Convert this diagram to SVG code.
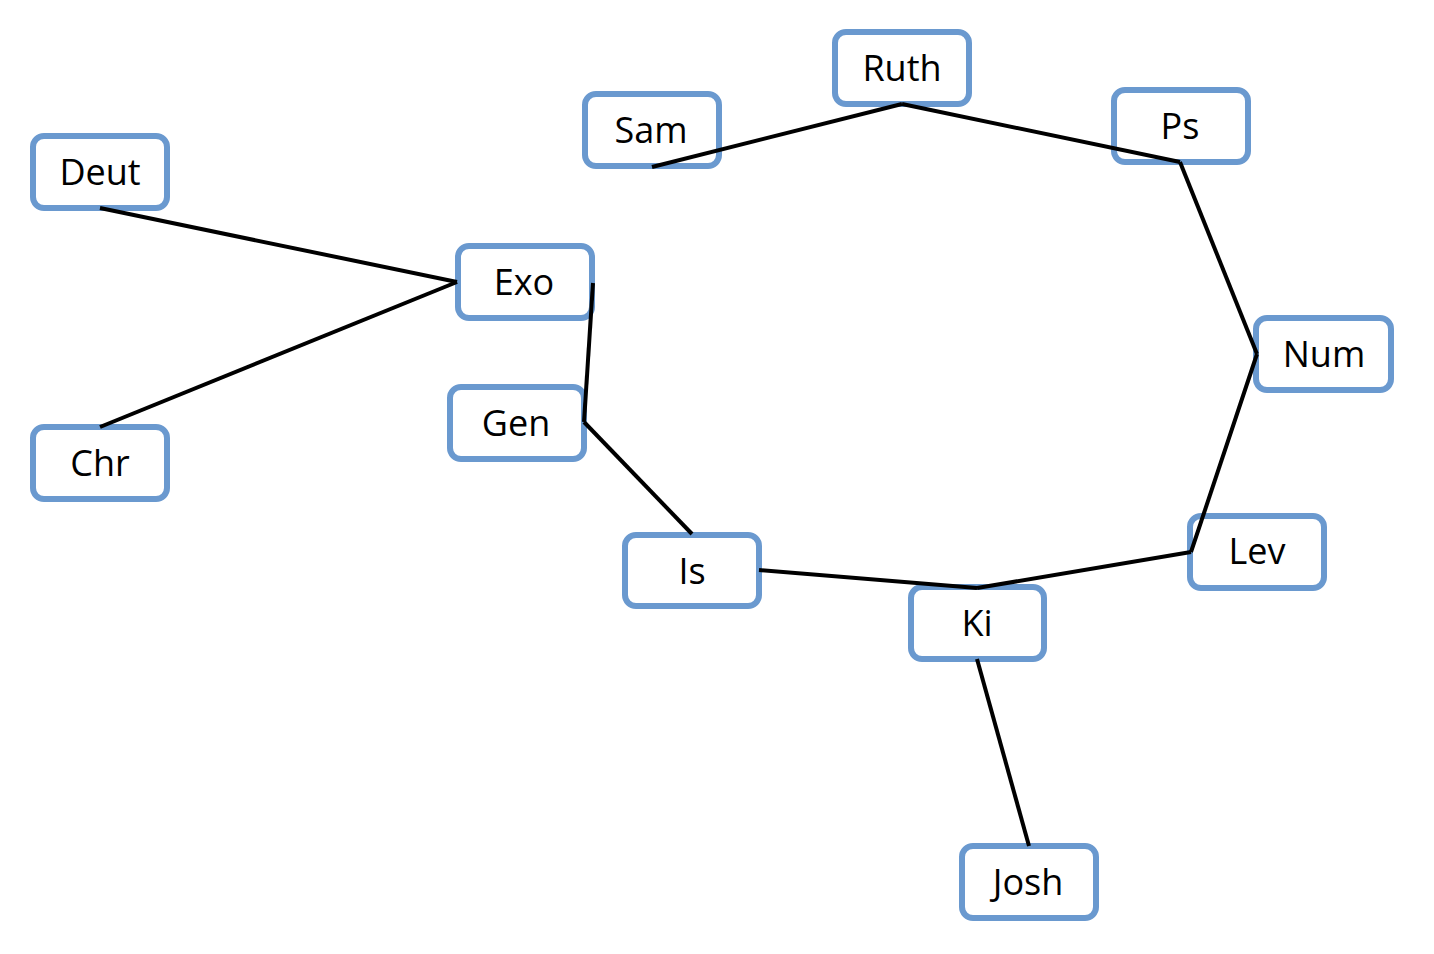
<svg xmlns="http://www.w3.org/2000/svg" width="1434" height="954" viewBox="0 0 1434 954">
<style>
.node rect{fill:#fff;stroke:#6A99CF;stroke-width:6}
.node text{font-family:"Open Sans","Noto Sans","Liberation Sans",sans-serif;font-size:36px;fill:#000;text-anchor:middle}
.edges line{stroke:#000;stroke-width:4;stroke-linecap:butt}
</style>
<rect width="1434" height="954" fill="#fff"/>
<g id="nodes">
<g id="ruth" class="node"><rect x="835" y="32" width="134" height="72" rx="11"/><text x="902" y="81">Ruth</text></g>
<g id="sam" class="node"><rect x="585" y="94" width="134" height="72" rx="11"/><text x="651" y="143">Sam</text></g>
<g id="ps" class="node"><rect x="1114" y="90" width="134" height="72" rx="11"/><text x="1180" y="139">Ps</text></g>
<g id="deut" class="node"><rect x="33" y="136" width="134" height="72" rx="11"/><text x="100" y="185">Deut</text></g>
<g id="exo" class="node"><rect x="458" y="246" width="134" height="72" rx="11"/><text x="524" y="295">Exo</text></g>
<g id="gen" class="node"><rect x="450" y="387" width="134" height="72" rx="11"/><text x="516" y="436">Gen</text></g>
<g id="chr" class="node"><rect x="33" y="427" width="134" height="72" rx="11"/><text x="100" y="476">Chr</text></g>
<g id="num" class="node"><rect x="1256" y="318" width="135" height="72" rx="11"/><text x="1324" y="367">Num</text></g>
<g id="lev" class="node"><rect x="1190" y="516" width="134" height="72" rx="11"/><text x="1257" y="564">Lev</text></g>
<g id="is" class="node"><rect x="625" y="535" width="134" height="71" rx="11"/><text x="692" y="584">Is</text></g>
<g id="ki" class="node"><rect x="911" y="587" width="133" height="72" rx="11"/><text x="977" y="636">Ki</text></g>
<g id="josh" class="node"><rect x="962" y="846" width="134" height="72" rx="11"/><text x="1028" y="895">Josh</text></g>
</g>
<g id="connectors" class="edges">
<line x1="100" y1="208" x2="457" y2="282"/>
<line x1="100" y1="427" x2="457" y2="282"/>
<line x1="593" y1="283" x2="584" y2="422"/>
<line x1="584" y1="422" x2="692" y2="534"/>
<line x1="759" y1="570" x2="977" y2="588"/>
<line x1="977" y1="588" x2="1191" y2="552"/>
<line x1="1191" y1="552" x2="1257" y2="354"/>
<line x1="1257" y1="354" x2="1180" y2="162"/>
<line x1="1180" y1="162" x2="902" y2="104"/>
<line x1="902" y1="104" x2="652" y2="167"/>
<line x1="977" y1="659" x2="1029" y2="846"/>
</g>
</svg>
